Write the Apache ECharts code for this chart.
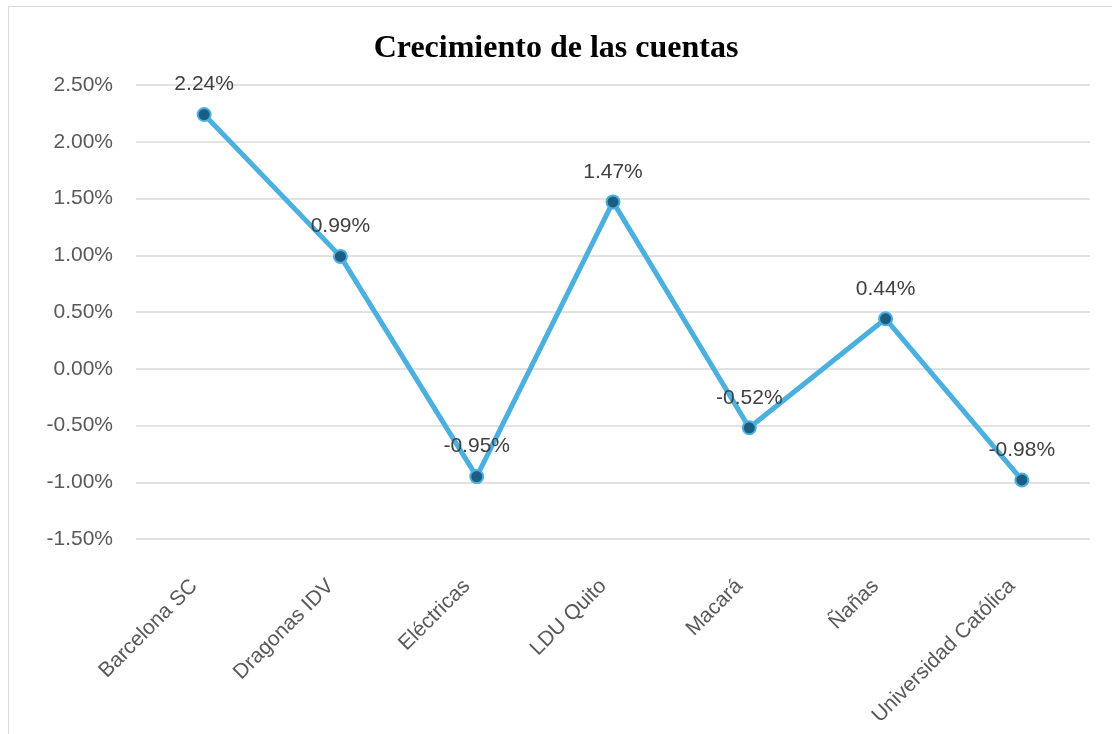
<!DOCTYPE html>
<html>
<head>
<meta charset="utf-8">
<script src="https://cdn.jsdelivr.net/npm/echarts@6/dist/echarts.min.js"></script>
<style>html,body{margin:0;padding:0;background:#fff}#c{width:1112px;height:734px}</style>
</head>
<body>
<div id="c"></div>
<script>
const titleText = 'Crecimiento de las cuentas';
const categories = ['Barcelona SC', 'Dragonas IDV', 'Eléctricas', 'LDU Quito', 'Macará', 'Ñañas', 'Universidad Católica'];
const values = [2.24, 0.99, -0.95, 1.47, -0.52, 0.44, -0.98];
const yMin = -1.5, yMax = 2.5, yStep = 0.5;

const chart = echarts.init(document.getElementById('c'), null, {renderer: 'canvas'});
chart.setOption({
  animation: false,
  backgroundColor: '#fff',
  graphic: [{
    type: 'rect', silent: true, z: -10,
    shape: {x: 8.5, y: 6.5, width: 1300, height: 900},
    style: {fill: 'none', stroke: '#d9d9d9', lineWidth: 1}
  }],
  title: {
    text: titleText, left: 'center', top: 28,
    textStyle: {fontFamily: '"Liberation Serif", "Times New Roman", serif', fontWeight: 'bold', fontSize: 32, color: '#000'}
  },
  grid: {left: 136, right: 22, top: 85, bottom: 195},
  xAxis: {
    type: 'category', data: categories, boundaryGap: true,
    axisLine: {show: false}, axisTick: {show: false},
    axisLabel: {rotate: 45, margin: 34, padding: [0, 14, 0, 0], interval: 0, fontFamily: '"Liberation Sans", Arial, sans-serif', fontSize: 21, color: '#595959'}
  },
  yAxis: {
    type: 'value', min: yMin, max: yMax, interval: yStep,
    axisLine: {show: false}, axisTick: {show: false},
    splitLine: {lineStyle: {color: '#d9d9d9', width: 1.5}},
    axisLabel: {margin: 23, fontFamily: '"Liberation Sans", Arial, sans-serif', fontSize: 21, color: '#595959',
      formatter: v => v.toFixed(2) + '%'}
  },
  series: [{
    type: 'line', data: values,
    lineStyle: {color: '#4BB0E0', width: 5},
    symbol: 'circle', symbolSize: 13,
    itemStyle: {color: '#1B5E82', borderColor: '#4BB0E0', borderWidth: 2},
    label: {show: true, position: 'top', distance: 12, fontFamily: '"Liberation Sans", Arial, sans-serif', fontSize: 21, color: '#404040',
      formatter: p => p.value.toFixed(2) + '%'}
  }]
});
</script>
</body>
</html>
